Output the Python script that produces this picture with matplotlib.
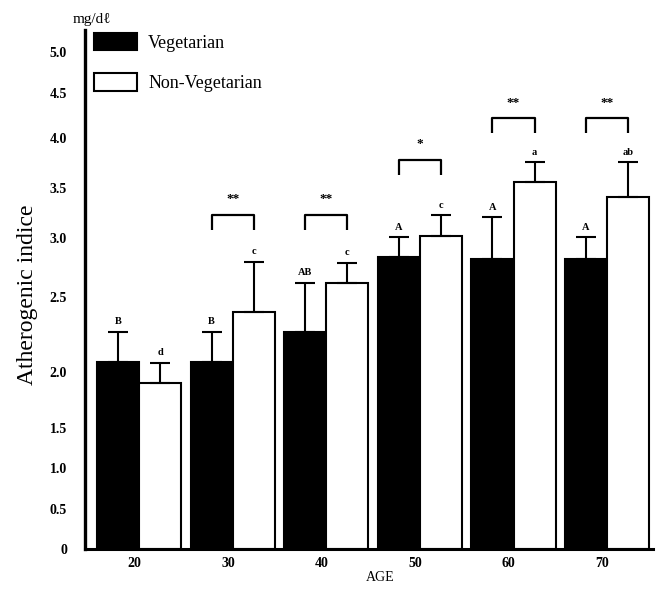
import numpy as np
import matplotlib.pyplot as plt
from matplotlib.patches import Patch

plt.rcParams['font.family'] = ['Liberation Serif', 'DejaVu Serif']

ages = ['20', '30', '40', '50', '60', '70']
veg = [2.07, 2.07, 2.27, 2.84, 2.82, 2.82]
veg_err = [0.20, 0.20, 0.35, 0.17, 0.39, 0.19]
nonveg = [1.90, 2.40, 2.62, 3.02, 3.56, 3.41]
nonveg_err = [0.16, 0.40, 0.17, 0.21, 0.20, 0.35]
veg_letters = ['B', 'B', 'AB', 'A', 'A', 'A']
nonveg_letters = ['d', 'c', 'c', 'c', 'a', 'ab']
sig = ['', '**', '**', '*', '**', '**']
bracket_top = [None, 3.23, 3.23, 3.78, 4.22, 4.22]

# the printed axis is not linear: tick value -> height in px above the baseline
tick_vals = [0, 0.5, 1.0, 1.5, 2.0, 2.5, 3.0, 3.5, 4.0, 4.5, 5.0, 5.5]
tick_px = [0, 40, 81, 121, 177, 252, 311, 361, 411, 456, 497, 538]


def fwd(v):
    return np.interp(v, tick_vals, tick_px)


def inv(p):
    return np.interp(p, tick_px, tick_vals)


fig = plt.figure(figsize=(6.57, 5.89), dpi=100)
ax = fig.add_axes([85/657, 40/589, 568/657, 519/589])
ax.set_yscale('function', functions=(fwd, inv))

x = np.arange(len(ages))
w = 0.45
ax.bar(x - w/2, veg, w, color='black', edgecolor='black', linewidth=1.5, zorder=2)
ax.bar(x + w/2, nonveg, w, color='white', edgecolor='black', linewidth=1.5, zorder=2)
ax.errorbar(x - w/2, veg, yerr=[np.zeros(6), veg_err], fmt='none', ecolor='black',
            elinewidth=1.5, capsize=7, capthick=1.5, zorder=3)
ax.errorbar(x + w/2, nonveg, yerr=[np.zeros(6), nonveg_err], fmt='none', ecolor='black',
            elinewidth=1.5, capsize=7, capthick=1.5, zorder=3)

for i in range(len(ages)):
    ax.annotate(veg_letters[i], (x[i] - w/2, veg[i] + veg_err[i]), xytext=(0, 4),
                textcoords='offset points', ha='center', va='bottom', fontsize=7.5, fontweight='bold')
    ax.annotate(nonveg_letters[i], (x[i] + w/2, nonveg[i] + nonveg_err[i]), xytext=(0, 4),
                textcoords='offset points', ha='center', va='bottom', fontsize=7.5, fontweight='bold')
    if bracket_top[i] is None:
        continue
    top = bracket_top[i]
    bot = inv(fwd(top) - 15)
    ax.plot([x[i] - w/2, x[i] - w/2, x[i] + w/2, x[i] + w/2], [bot, top, top, bot],
            color='black', lw=1.6, solid_capstyle='butt')
    ax.annotate(sig[i], (x[i], top), xytext=(0, 7), textcoords='offset points',
                ha='center', va='bottom', fontsize=9.5, fontweight='bold')

ax.set_xlim(-0.577, 5.49)
ax.set_ylim(0, 5.27)
ax.set_xticks(x - 0.05)
ax.set_xticklabels(ages, fontsize=10, fontweight='bold')
ax.set_yticks(tick_vals[:-1])
ax.set_yticklabels(['0', '0.5', '1.0', '1.5', '2.0', '2.5', '3.0', '3.5', '4.0', '4.5', '5.0'],
                   fontsize=10, fontweight='bold')
ax.tick_params(axis='y', length=0, pad=13)
ax.tick_params(axis='x', length=0, pad=6)

for s in ['top', 'right']:
    ax.spines[s].set_visible(False)
ax.spines['left'].set_linewidth(2.4)
ax.spines['bottom'].set_linewidth(2.2)

ax.set_ylabel('Atherogenic indice', fontsize=17)
ax.yaxis.set_label_coords((38 - 85)/568, 0.489)
ax.set_xlabel('AGE', fontsize=10)
ax.xaxis.set_label_coords((380 - 85)/568, -0.042)

fig.text(73/657, 1 - 20/589, 'mg/dℓ', fontsize=11, va='center', ha='left')

handles = [Patch(facecolor='black', edgecolor='black', linewidth=1.5),
           Patch(facecolor='white', edgecolor='black', linewidth=1.5)]
ax.legend(handles, ['Vegetarian', 'Non-Vegetarian'], loc='upper left',
          bbox_to_anchor=(94/657, 1 - 33/589), bbox_transform=fig.transFigure,
          frameon=False, fontsize=13, handlelength=2.4, handleheight=1.1,
          handletextpad=0.6, labelspacing=1.2, borderpad=0, borderaxespad=0)

fig.savefig('out.png', dpi=100)
